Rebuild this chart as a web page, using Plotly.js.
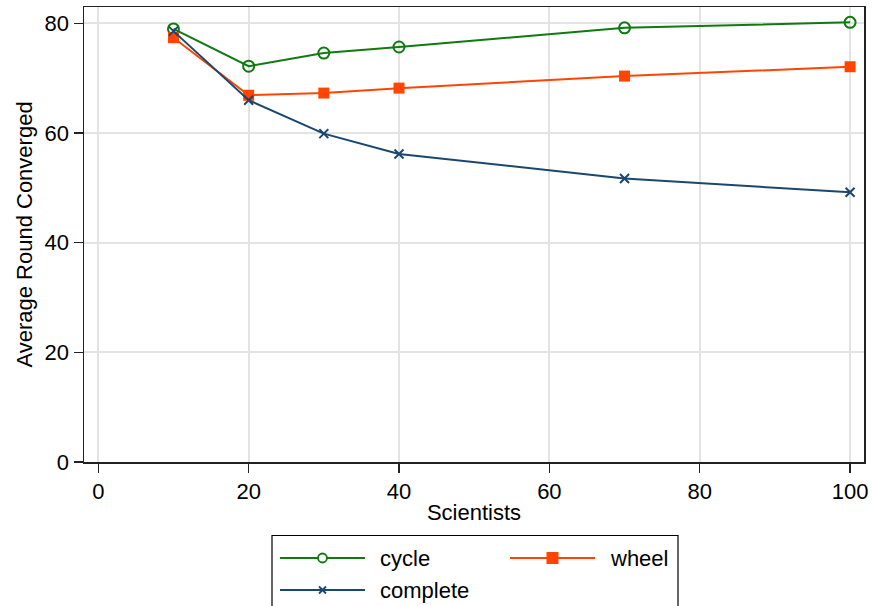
<!DOCTYPE html>
<html><head><meta charset="utf-8">
<script src="https://cdn.plot.ly/plotly-3.0.1.min.js"></script>
<style>html,body{margin:0;padding:0;background:#fff}</style>
</head><body><div id="chart" style="width:872px;height:606px"></div>
<script>
// ---- data ----
const scientists = [10, 20, 30, 40, 70, 100];
const cycleVals = [79.0, 72.2, 74.6, 75.7, 79.2, 80.2];
const wheelVals = [77.4, 66.9, 67.3, 68.2, 70.4, 72.1];
const completeVals = [78.6, 66.0, 59.9, 56.2, 51.7, 49.2];
const seriesNames = ['cycle', 'wheel', 'complete'];
const xTickVals = [0, 20, 40, 60, 80, 100];
const yTickVals = [0, 20, 40, 60, 80];
const xTitle = 'Scientists';
const yTitle = 'Average Round Converged';

// ---- styles ----
const colors = {cycle: '#0f7a0f', wheel: '#ff4500', complete: '#1a476f'};
const FONT = 'Liberation Sans, Arial, sans-serif';
const FS = 22;
const W = 872, H = 606;
const M = {l: 84, r: 8, t: 7, b: 144};
const PW = W - M.l - M.r, PH = H - M.t - M.b;
const px = x => (x - M.l) / PW;
const py = y => (H - M.b - y) / PH;

const traces = [
  {x: scientists, y: cycleVals, name: seriesNames[0], mode: 'lines+markers', type: 'scatter',
   line: {color: colors.cycle, width: 2},
   marker: {symbol: 'circle-open', size: 11, color: colors.cycle, line: {width: 2, color: colors.cycle}}},
  {x: scientists, y: wheelVals, name: seriesNames[1], mode: 'lines+markers', type: 'scatter',
   line: {color: colors.wheel, width: 2},
   marker: {symbol: 'square', size: 11, color: colors.wheel}},
  {x: scientists, y: completeVals, name: seriesNames[2], mode: 'lines+markers', type: 'scatter',
   line: {color: colors.complete, width: 2},
   marker: {symbol: 'x-thin-open', size: 9, color: colors.complete, line: {width: 2, color: colors.complete}}}
];

// ---- manual legend (Stata-style box, 2 columns) ----
const shapes = [];
const annotations = [];
shapes.push({type: 'rect', xref: 'paper', yref: 'paper', x0: px(272), x1: px(678), y0: py(535.5), y1: py(620),
  line: {color: '#000', width: 1.2}, fillcolor: 'rgba(0,0,0,0)'});
const legendItems = [
  {name: seriesNames[0], lx: 280, y: 558, key: 'circle'},
  {name: seriesNames[1], lx: 510, y: 558, key: 'square'},
  {name: seriesNames[2], lx: 280, y: 590, key: 'x'}
];
legendItems.forEach(it => {
  const c = colors[it.name];
  const cx = it.lx + 42.5;
  shapes.push({type: 'line', xref: 'paper', yref: 'paper', x0: px(it.lx), x1: px(it.lx + 85), y0: py(it.y), y1: py(it.y), line: {color: c, width: 2}});
  if (it.key === 'circle') {
    shapes.push({type: 'circle', xref: 'paper', yref: 'paper', x0: px(cx - 4.5), x1: px(cx + 4.5), y0: py(it.y - 4.5), y1: py(it.y + 4.5), line: {color: c, width: 1.8}, fillcolor: '#fff'});
  } else if (it.key === 'square') {
    shapes.push({type: 'rect', xref: 'paper', yref: 'paper', x0: px(cx - 6), x1: px(cx + 6), y0: py(it.y - 6), y1: py(it.y + 6), line: {color: c, width: 0}, fillcolor: c});
  } else {
    shapes.push({type: 'line', xref: 'paper', yref: 'paper', x0: px(cx - 3.5), x1: px(cx + 3.5), y0: py(it.y - 3.5), y1: py(it.y + 3.5), line: {color: c, width: 1.8}});
    shapes.push({type: 'line', xref: 'paper', yref: 'paper', x0: px(cx - 3.5), x1: px(cx + 3.5), y0: py(it.y + 3.5), y1: py(it.y - 3.5), line: {color: c, width: 1.8}});
  }
  annotations.push({xref: 'paper', yref: 'paper', x: px(it.lx + 98), y: py(it.y), xanchor: 'left', yanchor: 'middle',
    text: it.name, showarrow: false, font: {family: FONT, size: FS, color: '#000'}});
});

const axisCommon = {
  showline: true, linecolor: '#222', linewidth: 1.5, mirror: true,
  ticks: 'outside', ticklen: 9, tickwidth: 1.5, tickcolor: '#222',
  showgrid: true, gridcolor: '#e3e3e3', gridwidth: 2, zeroline: false,
  tickfont: {family: FONT, size: FS, color: '#000'}
};

const layout = {
  width: W, height: H,
  margin: M,
  paper_bgcolor: '#fff', plot_bgcolor: '#fff',
  showlegend: false,
  font: {family: FONT, size: FS, color: '#000'},
  xaxis: Object.assign({}, axisCommon, {
    range: [-1.9, 101.85], tickmode: 'array', tickvals: xTickVals,
    title: {text: xTitle, font: {family: FONT, size: FS, color: '#000'}, standoff: 1}
  }),
  yaxis: Object.assign({}, axisCommon, {
    range: [0, 83], tickmode: 'array', tickvals: yTickVals,
    title: {text: yTitle, font: {family: FONT, size: FS, color: '#000'}, standoff: 6}
  }),
  shapes: shapes,
  annotations: annotations
};

Plotly.newPlot('chart', traces, layout, {displayModeBar: false, staticPlot: true});
</script>
</body></html>
